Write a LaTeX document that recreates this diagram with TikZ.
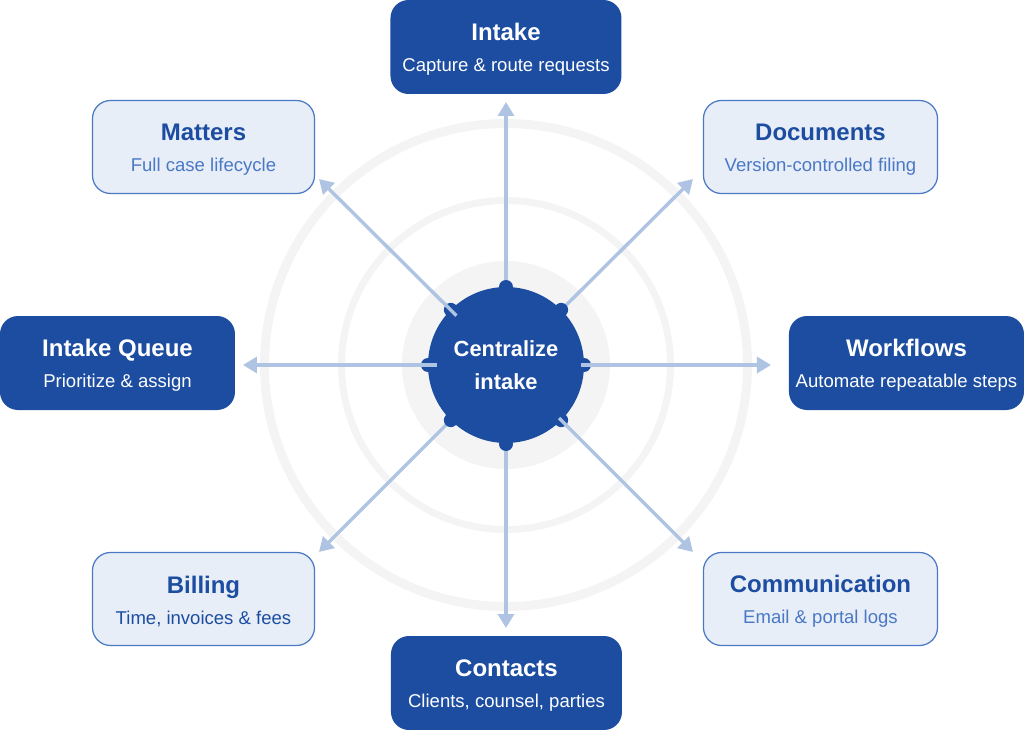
\documentclass[tikz,border=0pt]{standalone}
\usepackage{fontspec}
\setmainfont{Liberation Sans}
\usetikzlibrary{arrows.meta}

\definecolor{deepblue}{HTML}{1C4DA1}
\definecolor{paleblue}{HTML}{E8EEF8}
\definecolor{midblue}{HTML}{4A78C4}
\definecolor{linkblue}{HTML}{AFC4E3}
\definecolor{ringgray}{HTML}{F4F4F4}

\newcommand{\titlefont}{\fontsize{13.65}{17.6}\selectfont\bfseries}
\newcommand{\subfont}{\fontsize{10.55}{17.6}\selectfont}
\newcommand{\boxlabel}[2]{{\titlefont\rule{0pt}{12.5pt}#1}\\[5.6pt]{\subfont #2}}

\tikzset{
    solidbox/.style={rounded corners=0.36cm, fill=deepblue, text=white, minimum height=1.88cm, align=center, inner sep=0pt},
    lightbox/.style={rounded corners=0.36cm, draw=midblue, line width=0.7pt, fill=paleblue, text=deepblue, minimum height=1.86cm, align=center, inner sep=0pt},
    ring/.style={draw=ringgray, circle, inner sep=0pt},
    nub/.style={circle, fill=deepblue, minimum size=0.28cm, inner sep=0pt},
    link/.style={draw=linkblue, line width=0.068cm, -{Triangle[length=0.28cm,width=0.32cm]}}
}

\begin{document}
\begin{tikzpicture}
    \useasboundingbox (-10.12, -7.3) rectangle (10.36, 7.3);

    % rings behind everything
    \node[ring, line width=0.18cm, minimum size=9.66cm] (ringouter) at (0, 0) {};
    \node[ring, line width=0.14cm, minimum size=6.58cm] (ringinner) at (0, 0) {};
    \node[circle, fill=ringgray, minimum size=4.16cm, inner sep=0pt] (ringcore) at (0, 0) {};

    \node[circle, fill=deepblue, text=white, minimum size=3.12cm, inner sep=0pt, align=center,
          font=\fontsize{12.45}{19}\selectfont\bfseries] (hub) at (0, 0) {Centralize\\intake};

    % the boxes
    \node[solidbox, minimum width=4.62cm] (intake) at (0, 6.36) {\boxlabel{Intake}{Capture \& route requests}};
    \node[lightbox, minimum width=4.68cm] (documents) at (6.29, 4.36) {\boxlabel{Documents}{\color{midblue}Version-controlled filing}};
    \node[solidbox, minimum width=4.7cm] (workflows) at (8.01, 0.04) {\boxlabel{Workflows}{Automate repeatable steps}};
    \node[lightbox, minimum width=4.68cm] (communication) at (6.29, -4.68) {\boxlabel{Communication}{\color{midblue}Email \& portal logs}};
    \node[solidbox, minimum width=4.62cm] (contacts) at (0.01, -6.36) {\boxlabel{Contacts}{Clients, counsel, parties}};
    \node[lightbox, minimum width=4.44cm] (billing) at (-6.05, -4.68) {\boxlabel{Billing}{Time, invoices \& fees}};
    \node[solidbox, minimum width=4.7cm] (queue) at (-7.77, 0.04) {\boxlabel{Intake Queue}{Prioritize \& assign}};
    \node[lightbox, minimum width=4.44cm] (matters) at (-6.05, 4.36) {\boxlabel{Matters}{\color{midblue}Full case lifecycle}};

    % free ends of the arrows
    \coordinate (tipn) at (0, 5.26);
    \coordinate (tipne) at (3.74, 3.72);
    \coordinate (tipe) at (5.3, 0);
    \coordinate (tipse) at (3.74, -3.74);
    \coordinate (tips) at (0, -5.26);
    \coordinate (tipsw) at (-3.74, -3.74);
    \coordinate (tipw) at (-5.26, 0);
    \coordinate (tipnw) at (-3.74, 3.72);

    \draw[link] (hub) -- (tipn);
    \draw[link] (hub) -- (tipne);
    \draw[link] (hub) -- (tips);
    \draw[link] (hub) -- (tipsw);

    \node[nub] (nubn) at (90:1.56) {};
    \node[nub] (nubne) at (45:1.56) {};
    \node[nub] (nube) at (0:1.56) {};
    \node[nub] (nubse) at (-45:1.56) {};
    \node[nub] (nubs) at (-90:1.58) {};
    \node[nub] (nubsw) at (-135:1.56) {};
    \node[nub] (nubw) at (180:1.56) {};
    \node[nub] (nubnw) at (135:1.56) {};

    % these four run over their nubs
    \draw[link, shorten <=1.5cm] (hub.center) -- (tipe);
    \draw[link, shorten <=1.5cm] (hub.center) -- (tipse);
    \draw[link, shorten <=1.38cm] (hub.center) -- (tipw);
    \draw[link, shorten <=1.4cm] (hub.center) -- (tipnw);
\end{tikzpicture}
\end{document}
